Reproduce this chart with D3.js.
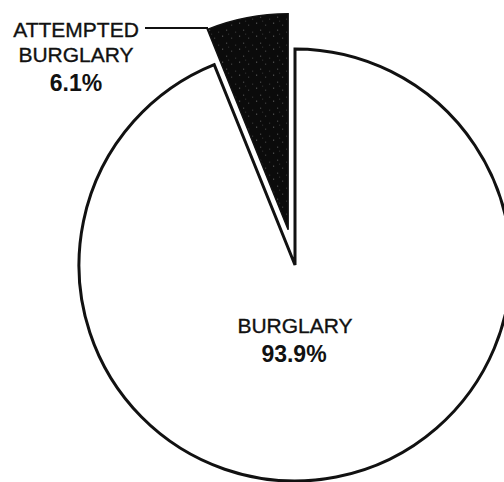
<!DOCTYPE html>
<html>
<head>
<meta charset="utf-8">
<script src="https://cdn.jsdelivr.net/npm/d3@7"></script>
<style>
  body { margin: 0; background: #fff; }
  svg { display: block; }
  text { font-family: "Liberation Sans", Arial, Helvetica, sans-serif; fill: #111; }
  text.reg { stroke: #111; stroke-width: 0.35; }
</style>
</head>
<body>
<div id="chart"></div>
<script>
// slice data, clockwise from 12 o'clock
var categories = ['BURGLARY', 'ATTEMPTED BURGLARY']
var values = [93.9, 6.1]
var labels = ['93.9%', '6.1%']

var width = 504, height = 482
var cx = 295, cy = 265, r = 216
var explode = 36

var svg = d3.select('#chart').append('svg')
  .attr('width', width).attr('height', height)

// grainy dark fill like the printed original
var pat = svg.append('defs').append('pattern')
  .attr('id', 'grain').attr('patternUnits', 'userSpaceOnUse')
  .attr('width', 17).attr('height', 13)
pat.append('rect').attr('width', 17).attr('height', 13).attr('fill', '#0b0b0b')
var specks = [[2, 1, '#777'], [11, 3, '#555'], [6, 8, '#666'], [15, 10, '#444'], [8, 12, '#3a3a3a']]
specks.forEach(function(s){
  pat.append('rect').attr('x', s[0]).attr('y', s[1]).attr('width', 1).attr('height', 1).attr('fill', s[2])
})

var data = categories.map(function(c, i){ return {name: c, value: values[i], label: labels[i]} })

var pie = d3.pie().sort(null).value(function(d){ return d.value })
  .startAngle(0).endAngle(2 * Math.PI)
var arcs = pie(data)

var arc = d3.arc().innerRadius(0).outerRadius(r)

var g = svg.append('g').attr('transform', 'translate(' + cx + ',' + cy + ')')

g.selectAll('path.slice').data(arcs).enter().append('path')
  .attr('class', 'slice')
  .attr('transform', function(d, i){
    if (i == 0) return null
    var mid = (d.startAngle + d.endAngle) / 2
    return 'translate(' + (Math.sin(mid) * explode) + ',' + (-Math.cos(mid) * explode) + ')'
  })
  .attr('d', arc)
  .attr('fill', function(d, i){ return i == 0 ? '#fff' : 'url(#grain)' })
  .attr('stroke', '#111')
  .attr('stroke-width', function(d, i){ return i == 0 ? 3 : 1.5 })
  .attr('stroke-linejoin', 'miter')

// big slice label inside
g.append('text').attr('class', 'reg').attr('x', 0).attr('y', 68)
  .attr('text-anchor', 'middle').attr('font-size', 21)
  .text(categories[0])
g.append('text').attr('x', -1).attr('y', 97)
  .attr('text-anchor', 'middle').attr('font-size', 23).attr('font-weight', 'bold')
  .text(labels[0])

// attempted label off to the left with a leader
var small = arcs[1]
var lab = svg.append('g').attr('transform', 'translate(76,0)')
lab.append('text').attr('class', 'reg').attr('x', 0).attr('y', 37)
  .attr('text-anchor', 'middle').attr('font-size', 21).text('ATTEMPTED')
lab.append('text').attr('class', 'reg').attr('x', 0).attr('y', 62)
  .attr('text-anchor', 'middle').attr('font-size', 21).text('BURGLARY')
lab.append('text').attr('x', 0).attr('y', 91)
  .attr('text-anchor', 'middle').attr('font-size', 23).attr('font-weight', 'bold').text(small.data.label)

svg.append('line')
  .attr('x1', 145).attr('x2', 208).attr('y1', 28).attr('y2', 28)
  .attr('stroke', '#111').attr('stroke-width', 2)
</script>
</body>
</html>
